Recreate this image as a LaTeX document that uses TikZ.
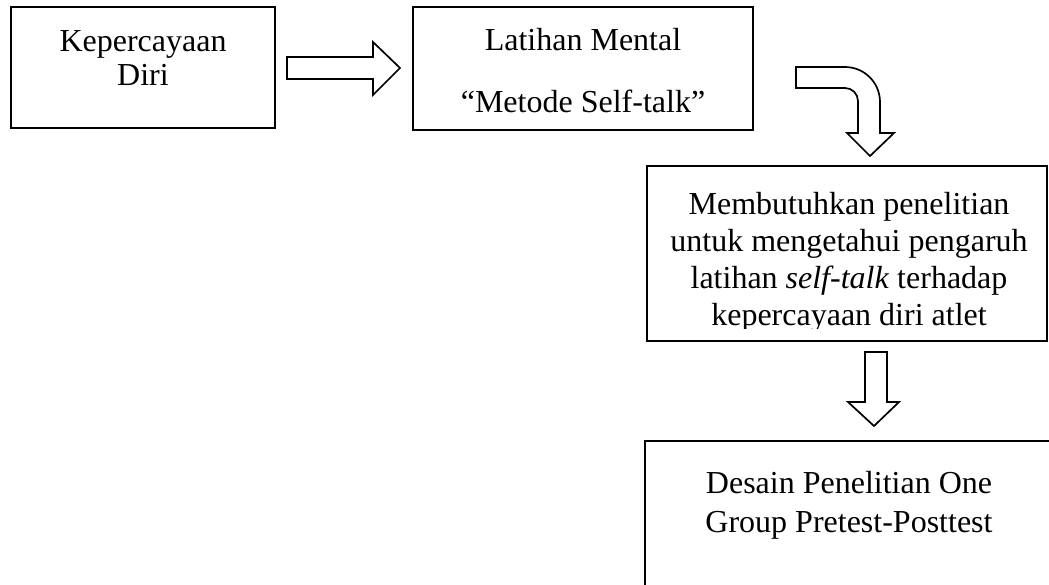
\documentclass[tikz,border=0pt]{standalone}
\usepackage{fontspec}
\setmainfont{Liberation Serif}
\begin{document}
\begin{tikzpicture}[x=0.5pt,y=-0.5pt,
  box/.style={draw,line width=1pt,inner sep=0pt,outer sep=0pt},
  blockarrow/.style={draw,line width=0.85pt,fill=white,line join=miter},
  txt/.style={anchor=base,inner sep=0pt,font=\fontsize{16}{18.4}\selectfont}]
\clip (0,0) rectangle (1049,584);
\fill[white] (0,0) rectangle (1049,584);
% boxes
\node[box,minimum width=132pt,minimum height=60.5pt] (b1) at (143,67.5) {};
\node[box,minimum width=170pt,minimum height=61.5pt] (b2) at (583,68.5) {};
\node[box,minimum width=200pt,minimum height=87.5pt] (b3) at (847,253.5) {};
\node[box,minimum width=207.5pt,minimum height=89.5pt] (b4) at (852.5,530.5) {};
% texts
\node[txt] (t1a) at (143,51) {Kepercayaan};
\node[txt] (t1b) at (143,85) {Diri};
\node[txt] (t2a) at (583,50) {Latihan Mental};
\node[txt] (t2b) at (583,112) {“Metode Self-talk”};
\begin{scope}
\clip (647,166) rectangle (1047,328);
\node[txt] (t3a) at (849,214) {Membutuhkan penelitian};
\node[txt] (t3b) at (849,251) {untuk mengetahui pengaruh};
\node[txt] (t3c) at (849,288) {latihan \textit{self-talk} terhadap};
\node[txt] (t3d) at (849,325) {kepercayaan diri atlet};
\end{scope}
\node[txt] (t4a) at (849,493) {Desain Penelitian One};
\node[txt] (t4b) at (849,532) {Group Pretest-Posttest};
% block arrows
\draw[blockarrow] (287,57) -- (373,57) -- (373,42) -- (400,68) -- (373,95) -- (373,79) -- (287,79) -- cycle;
\draw[blockarrow] (796,67) -- (845,67) arc[start angle=-90,end angle=0,radius=35]
  -- (880,133) -- (894,133) -- (870,156) -- (847,133) -- (858,133) -- (858,101)
  arc[start angle=0,end angle=-90,radius=13] -- (796,88) -- cycle;
\draw[blockarrow] (865,352) -- (887,352) -- (887,402) -- (899,402) -- (874,426) -- (848,402) -- (865,402) -- cycle;
\end{tikzpicture}
\end{document}
